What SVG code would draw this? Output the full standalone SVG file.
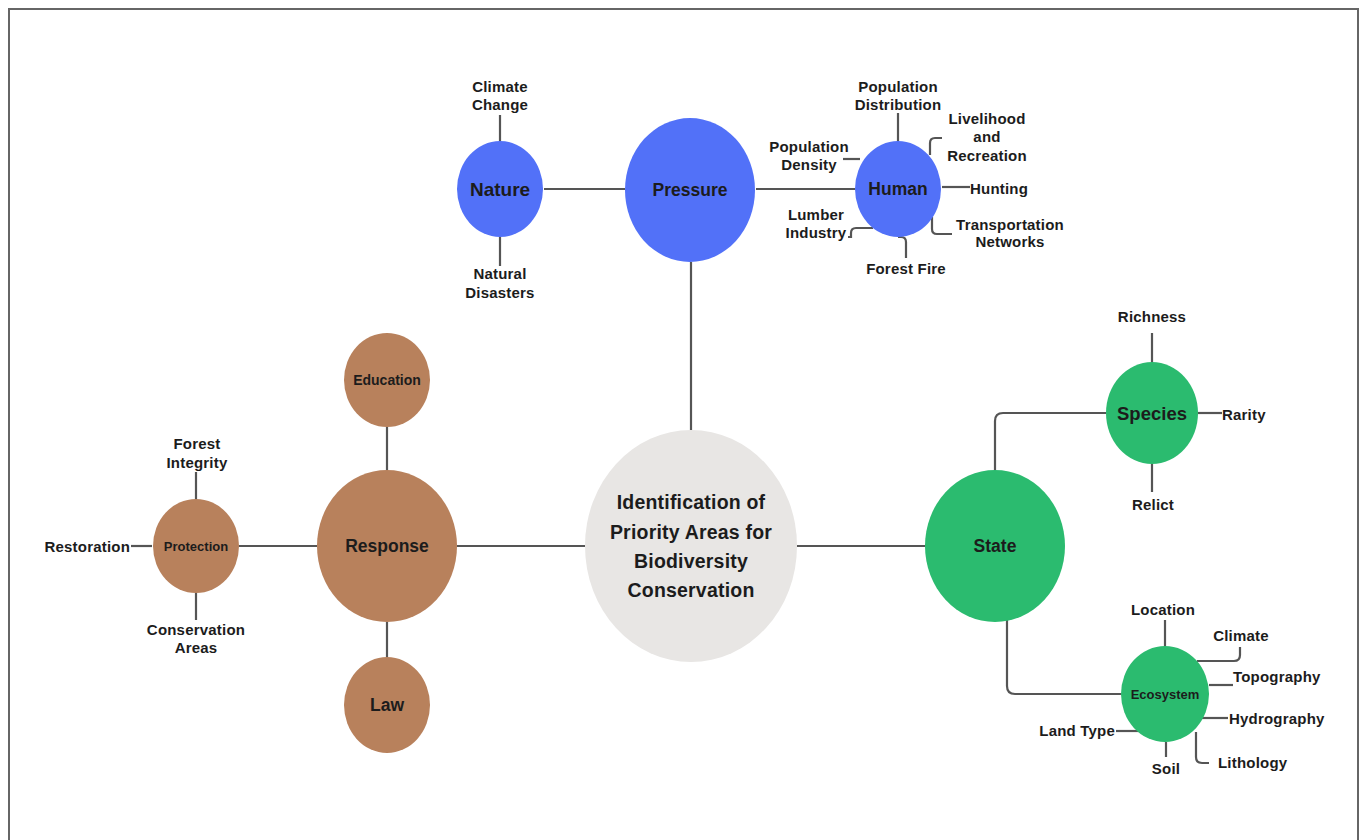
<svg xmlns="http://www.w3.org/2000/svg" width="1360" height="840" viewBox="0 0 1360 840">
<style>
text{font-family:"Liberation Sans",Arial,sans-serif;font-weight:bold;fill:#1c1c1c;text-anchor:middle;dominant-baseline:central}
.leaf{font-size:15px;letter-spacing:0.2px}
.mid{font-size:17.5px}
.sm{font-size:13px}
.ctr{font-size:19.5px;letter-spacing:0.2px}
.blue{fill:#5271f8}
.brown{fill:#b8815c}
.green{fill:#2bbb6f}
.gray{fill:#e8e6e4}
#connectors path,#connectors line{stroke:#555;stroke-width:2.2;fill:none}
</style>
<rect x="9" y="9" width="1349" height="840" fill="#fff" stroke="#666" stroke-width="2"/>
<g id="connectors">
<line x1="544" y1="189" x2="625" y2="189"/>
<line x1="756" y1="189" x2="855" y2="189"/>
<line x1="691" y1="262" x2="691" y2="430"/>
<line x1="500" y1="115" x2="500" y2="142"/>
<line x1="500" y1="237" x2="500" y2="266"/>
<line x1="898" y1="113" x2="898" y2="142"/>
<line x1="843" y1="159" x2="860" y2="159"/>
<path d="M930,155 V143 Q930,138 935,138 H942"/>
<line x1="942" y1="187" x2="970" y2="187"/>
<path d="M932,217 V229 Q932,234 937,234 H952"/>
<path d="M898,237 H901 Q906,237 906,242 V258"/>
<path d="M873,228 H856 Q851,228 851,233 V237 H848"/>
<line x1="1152" y1="333" x2="1152" y2="362"/>
<line x1="1152" y1="464" x2="1152" y2="492"/>
<line x1="1198" y1="413" x2="1222" y2="413"/>
<path d="M995,470 V421 Q995,413 1003,413 H1106"/>
<path d="M1007,618 V686 Q1007,694 1015,694 H1121"/>
<line x1="1165" y1="620" x2="1165" y2="647"/>
<path d="M1197,661 H1234 Q1240,661 1240,655 V647"/>
<line x1="1209" y1="685" x2="1233" y2="685"/>
<line x1="1201" y1="718" x2="1228" y2="718"/>
<path d="M1196,732 V757 Q1196,763 1202,763 H1209"/>
<line x1="1166" y1="742" x2="1166" y2="757"/>
<line x1="1116" y1="731" x2="1141" y2="731"/>
<line x1="196" y1="472" x2="196" y2="499"/>
<line x1="196" y1="593" x2="196" y2="620"/>
<line x1="131" y1="546" x2="152" y2="546"/>
<line x1="239" y1="546" x2="317" y2="546"/>
<line x1="457" y1="546" x2="585" y2="546"/>
<line x1="797" y1="546" x2="925" y2="546"/>
<line x1="387" y1="427" x2="387" y2="470"/>
<line x1="387" y1="622" x2="387" y2="657"/>
</g>
<g id="center"><ellipse class="gray" cx="691" cy="546" rx="106" ry="116"/>
<text class="ctr" x="691" y="502">Identification of</text>
<text class="ctr" x="691" y="532">Priority Areas for</text>
<text class="ctr" x="691" y="561">Biodiversity</text>
<text class="ctr" x="691" y="590">Conservation</text></g>
<g id="pressure"><ellipse class="blue" cx="690" cy="190" rx="65" ry="72"/><text class="mid" x="690" y="190">Pressure</text></g>
<g id="nature"><ellipse class="blue" cx="500" cy="189" rx="43" ry="48"/><text class="mid" x="500" y="189" style="font-size:19px">Nature</text></g>
<g id="human"><ellipse class="blue" cx="898" cy="189" rx="43" ry="48"/><text class="mid" x="898" y="189">Human</text></g>
<g id="climate-change"><text class="leaf" x="500" y="86">Climate</text><text class="leaf" x="500" y="104">Change</text></g>
<g id="natural-disasters"><text class="leaf" x="500" y="273">Natural</text><text class="leaf" x="500" y="292">Disasters</text></g>
<g id="population-distribution"><text class="leaf" x="898" y="86">Population</text><text class="leaf" x="898" y="104">Distribution</text></g>
<g id="population-density"><text class="leaf" x="809" y="146">Population</text><text class="leaf" x="809" y="164">Density</text></g>
<g id="livelihood"><text class="leaf" x="987" y="118">Livelihood</text><text class="leaf" x="987" y="136">and</text><text class="leaf" x="987" y="155">Recreation</text></g>
<g id="hunting"><text class="leaf" x="970" y="188" style="text-anchor:start">Hunting</text></g>
<g id="transportation"><text class="leaf" x="1010" y="224">Transportation</text><text class="leaf" x="1010" y="241">Networks</text></g>
<g id="forest-fire"><text class="leaf" x="906" y="268">Forest Fire</text></g>
<g id="lumber"><text class="leaf" x="816" y="214">Lumber</text><text class="leaf" x="816" y="232">Industry</text></g>
<g id="state"><ellipse class="green" cx="995" cy="546" rx="70" ry="76"/><text class="mid" x="995" y="546">State</text></g>
<g id="species"><ellipse class="green" cx="1152" cy="413" rx="46" ry="51"/><text class="mid" x="1152" y="413" style="font-size:18.5px">Species</text></g>
<g id="richness"><text class="leaf" x="1152" y="316">Richness</text></g>
<g id="relict"><text class="leaf" x="1153" y="504">Relict</text></g>
<g id="rarity"><text class="leaf" x="1222" y="414" style="text-anchor:start">Rarity</text></g>
<g id="ecosystem"><ellipse class="green" cx="1165" cy="694" rx="44" ry="48"/><text class="sm" x="1165" y="694">Ecosystem</text></g>
<g id="location"><text class="leaf" x="1163" y="609">Location</text></g>
<g id="climate"><text class="leaf" x="1241" y="635">Climate</text></g>
<g id="topography"><text class="leaf" x="1233" y="676" style="text-anchor:start">Topography</text></g>
<g id="hydrography"><text class="leaf" x="1229" y="718" style="text-anchor:start">Hydrography</text></g>
<g id="lithology"><text class="leaf" x="1218" y="762" style="text-anchor:start">Lithology</text></g>
<g id="soil"><text class="leaf" x="1166" y="768">Soil</text></g>
<g id="land-type"><text class="leaf" x="1115" y="730" style="text-anchor:end">Land Type</text></g>
<g id="response"><ellipse class="brown" cx="387" cy="546" rx="70" ry="76"/><text class="mid" x="387" y="546">Response</text></g>
<g id="education"><ellipse class="brown" cx="387" cy="380" rx="43" ry="47"/><text class="sm" x="387" y="380" style="font-size:14px">Education</text></g>
<g id="law"><ellipse class="brown" cx="387" cy="705" rx="43" ry="48"/><text class="mid" x="387" y="705">Law</text></g>
<g id="protection"><ellipse class="brown" cx="196" cy="546" rx="43" ry="47"/><text class="sm" x="196" y="546">Protection</text></g>
<g id="forest-integrity"><text class="leaf" x="197" y="443">Forest</text><text class="leaf" x="197" y="462">Integrity</text></g>
<g id="conservation-areas"><text class="leaf" x="196" y="629">Conservation</text><text class="leaf" x="196" y="647">Areas</text></g>
<g id="restoration"><text class="leaf" x="130" y="546" style="text-anchor:end">Restoration</text></g>
</svg>
